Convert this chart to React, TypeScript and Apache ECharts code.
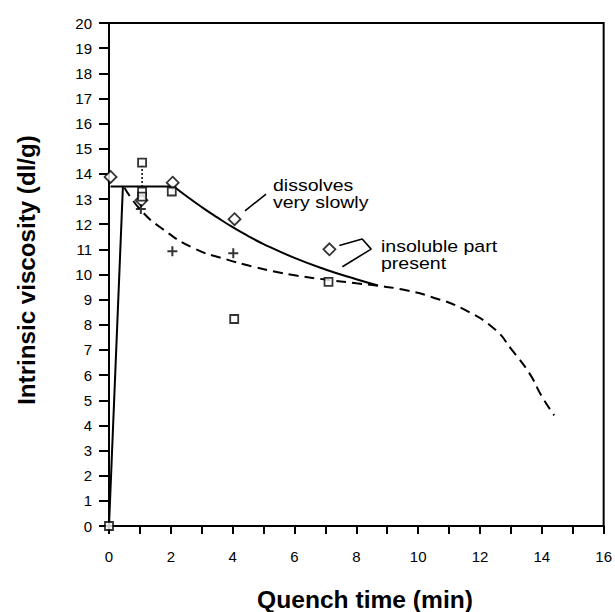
import React, { useEffect, useRef } from "react";
import * as echarts from "echarts";

// Measured points
const diamondX = [0.05, 1.05, 2.06, 4.06, 7.13];
const diamondY = [13.88, 12.95, 13.65, 12.2, 11.0];
const squareX = [0, 1.07, 1.07, 1.07, 2.03, 4.05, 7.1];
const squareY = [0, 14.45, 13.3, 13.1, 13.3, 8.23, 9.71];
const plusX = [1.03, 2.05, 4.02];
const plusY = [12.6, 10.92, 10.84];

// Solid curve (rise, plateau, decay)
const riseX = [0, 0.45];
const riseY = [0, 13.5];
const plateauX = [0.05, 2.1];
const plateauY = [13.5, 13.5];
const decayX = [2.1, 2.5, 3, 3.5, 4, 4.5, 5, 6, 7, 8, 8.7];
const decayY = [13.5, 13.12, 12.68, 12.27, 11.88, 11.53, 11.21, 10.66, 10.2, 9.81, 9.56];

// Dashed curve
const dashX = [0.5, 1, 1.7, 2.75, 3.8, 4.7, 5.3, 6.1, 7, 8, 8.7, 9.5, 10.4, 11.5, 12.5, 13.0, 13.6, 14.0, 14.4];
const dashY = [13.45, 12.6, 11.84, 11.04, 10.6, 10.3, 10.13, 9.95, 9.8, 9.65, 9.55, 9.4, 9.12, 8.6, 7.8, 7.05, 6.07, 5.15, 4.4];

// Dotted connector at t = 1
const dottedX = [1.07, 1.07];
const dottedY = [14.35, 13.4];

// Annotation leaders (data coordinates)
const leader1X = [4.4, 5.08];
const leader1Y = [12.53, 13.2];
const leader2X = [7.45, 8.19, 8.48, 7.55];
const leader2Y = [11.15, 11.41, 11.01, 10.31];

const xTitle = "Quench time (min)";
const yTitle = "Intrinsic viscosity (dl/g)";
const note1 = "dissolves\nvery slowly";
const note2 = "insoluble part\npresent";

const zip = (xs: number[], ys: number[]) => xs.map((x, i) => [x, ys[i]]);

const FONT = "'Liberation Sans', Arial, Helvetica, sans-serif";
const PLUS = "path://M4,0H6V4H10V6H6V10H4V6H0V4H4Z";

export default function App() {
  const ref = useRef<HTMLDivElement>(null);
  useEffect(() => {
    if (!ref.current) return;
    const chart = echarts.init(ref.current, null, { renderer: "svg" });
    const lineBase = (data: number[][], extra: any = {}) => ({
      type: "line",
      data,
      symbol: "none",
      silent: true,
      z: 2,
      lineStyle: { color: "#000", width: 2, ...(extra.lineStyle || {}) },
      smooth: extra.smooth ?? false,
    });
    chart.setOption({
      animation: false,
      backgroundColor: "#fff",
      grid: {
        left: 109,
        right: 6,
        top: 23,
        bottom: 86,
        show: true,
        borderColor: "#000",
        borderWidth: 2,
      },
      xAxis: {
        type: "value",
        min: 0,
        max: 16,
        interval: 2,
        axisLine: { show: true, lineStyle: { color: "#000", width: 2 } },
        axisTick: { show: true, length: 8, lineStyle: { color: "#000", width: 2 } },
        minorTick: { show: true, splitNumber: 2, length: 8, lineStyle: { color: "#000", width: 2 } },
        splitLine: { show: false },
        axisLabel: { color: "#000", fontSize: 15, fontFamily: FONT, margin: 23 },
      },
      yAxis: {
        type: "value",
        min: 0,
        max: 20,
        interval: 1,
        axisLine: { show: true, lineStyle: { color: "#000", width: 2 } },
        axisTick: { show: true, length: 10, lineStyle: { color: "#000", width: 2 } },
        splitLine: { show: false },
        axisLabel: { color: "#000", fontSize: 15, fontFamily: FONT, margin: 17 },
      },
      series: [
        lineBase(zip(riseX, riseY)),
        lineBase(zip(plateauX, plateauY)),
        lineBase(zip(decayX, decayY), { smooth: 0.5 }),
        lineBase(zip(dashX, dashY), { smooth: 0.5, lineStyle: { type: [10, 6] } }),
        lineBase(zip(dottedX, dottedY), { lineStyle: { type: [2, 2], width: 1.5 } }),
        lineBase(zip(leader1X, leader1Y), { lineStyle: { width: 1.6 } }),
        lineBase(zip(leader2X, leader2Y), { lineStyle: { width: 1.6 } }),
        {
          type: "scatter",
          data: zip(diamondX, diamondY),
          symbol: "diamond",
          symbolSize: 12,
          z: 5,
          itemStyle: { color: "#fff", borderColor: "#000", borderWidth: 1.8 },
        },
        {
          type: "scatter",
          data: zip(squareX, squareY),
          symbol: "rect",
          symbolSize: 8,
          z: 5,
          itemStyle: { color: "#fff", borderColor: "#000", borderWidth: 1.8 },
        },
        {
          type: "scatter",
          data: zip(plusX, plusY),
          symbol: PLUS,
          symbolSize: 10,
          z: 5,
          itemStyle: { color: "#000" },
        },
      ],
      graphic: [
        {
          type: "text",
          x: 365,
          y: 600,
          scaleX: 1.07,
          style: {
            text: xTitle,
            font: `bold 23px ${FONT}`,
            fill: "#000",
            align: "center",
            verticalAlign: "middle",
          },
        },
        {
          type: "text",
          x: 27,
          y: 270,
          rotation: Math.PI / 2,
          scaleX: 1.05,
          style: {
            text: yTitle,
            font: `bold 23px ${FONT}`,
            fill: "#000",
            align: "center",
            verticalAlign: "middle",
          },
        },
        {
          type: "text",
          x: 273,
          y: 176,
          scaleX: 1.15,
          style: {
            text: note1,
            font: `17px ${FONT}`,
            lineHeight: 17,
            fill: "#000",
            align: "left",
            verticalAlign: "top",
          },
        },
        {
          type: "text",
          x: 381,
          y: 237,
          scaleX: 1.15,
          style: {
            text: note2,
            font: `17px ${FONT}`,
            lineHeight: 17,
            fill: "#000",
            align: "left",
            verticalAlign: "top",
          },
        },
      ],
    });
    return () => chart.dispose();
  }, []);
  return (
    <div
      ref={ref}
      style={{ position: "fixed", left: 0, top: 0, width: 615, height: 612, background: "#fff" }}
    />
  );
}
